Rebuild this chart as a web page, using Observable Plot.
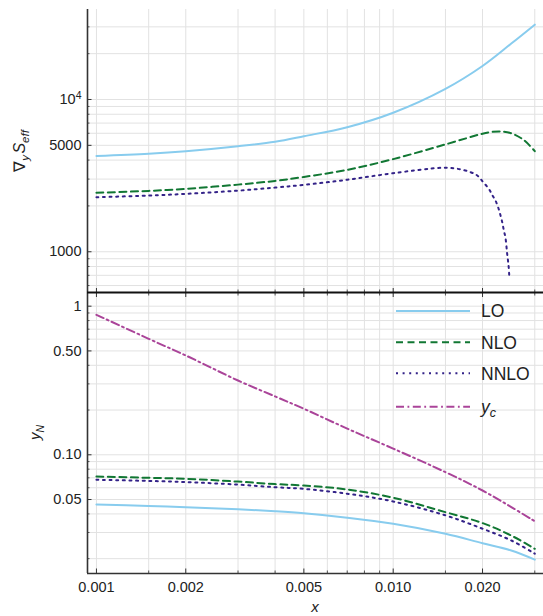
<!DOCTYPE html>
<html><head><meta charset="utf-8">
<script src="https://cdn.jsdelivr.net/npm/d3@7"></script>
<script src="https://cdn.jsdelivr.net/npm/@observablehq/plot@0.6"></script>
<style>body{margin:0;background:#fff} #chart{width:543px;height:616px}</style>
</head><body><div id="chart"></div>
<script>
// ---- ticks ----
const xMajor = [0.001, 0.002, 0.005, 0.01, 0.02];
const xMajorLabels = ["0.001", "0.002", "0.005", "0.010", "0.020"];
const xMinor = [0.0015, 0.003, 0.004, 0.006, 0.007, 0.008, 0.009, 0.015, 0.03];
const topMajor = [1000, 5000, 10000];
const topMajorLabels = ["1000", "5000", "10^4"];
const topMinor = [600, 700, 800, 900, 2000, 3000, 4000, 6000, 7000, 8000, 9000, 20000, 30000];
const botMajor = [0.05, 0.1, 0.5, 1];
const botMajorLabels = ["0.05", "0.10", "0.50", "1"];
const botMinor = [0.02, 0.03, 0.04, 0.06, 0.07, 0.08, 0.09, 0.2, 0.3, 0.4, 0.6, 0.7, 0.8, 0.9];

// ---- data ----
const xGrid = [0.001, 0.0015, 0.002, 0.003, 0.004, 0.005, 0.007, 0.01, 0.015, 0.02, 0.025, 0.03];
const topLO = [4250, 4400, 4570, 4930, 5280, 5740, 6580, 8190, 11750, 16600, 23300, 31000];
const xTopNLO = [0.001, 0.0015, 0.002, 0.003, 0.004, 0.005, 0.007, 0.01, 0.015, 0.02, 0.0215, 0.023, 0.025, 0.0275, 0.03];
const topNLO = [2440, 2510, 2590, 2760, 2920, 3100, 3450, 4060, 5070, 5960, 6120, 6170, 6000, 5430, 4580];
const xTopNNLO = [0.001, 0.0015, 0.002, 0.003, 0.004, 0.005, 0.007, 0.01, 0.0146, 0.0164, 0.0182, 0.0192, 0.0201, 0.021, 0.0216, 0.0221, 0.0226, 0.023, 0.0233, 0.0236, 0.0239, 0.0242, 0.0245, 0.0246];
const topNNLO = [2280, 2340, 2400, 2520, 2640, 2750, 2970, 3280, 3560, 3510, 3335, 3170, 2865, 2590, 2345, 2175, 1945, 1730, 1565, 1380, 1235, 980, 795, 706];
const botLO = [0.0463, 0.0453, 0.0444, 0.0430, 0.0417, 0.0404, 0.0377, 0.0343, 0.0294, 0.0254, 0.0227, 0.0197];
const botNLO = [0.0714, 0.0700, 0.0689, 0.0660, 0.0635, 0.0621, 0.0584, 0.0514, 0.0411, 0.0347, 0.0286, 0.0233];
const botNNLO = [0.0679, 0.0667, 0.0655, 0.0630, 0.0605, 0.0590, 0.0547, 0.0485, 0.0391, 0.0318, 0.0265, 0.0216];
const botYc = [0.875, 0.603, 0.466, 0.316, 0.247, 0.204, 0.150, 0.110, 0.0764, 0.0575, 0.0445, 0.0357];

const seriesNames = ["LO", "NLO", "NNLO", "y_c"];
const colors = ["#88CCEE", "#117733", "#332288", "#AA4499"];
const dashes = [null, "7,4.5", "2,4.6", "8,3.5,1.8,3.5"];

const xDomain = [0.000933, 0.0321];
const topDomain = [540, 39000];
const botDomain = [0.01589, 1.236];
const font = "'Liberation Sans', Arial, Helvetica, sans-serif";
const gridColor = "#e2e2e2";

const lbl = (ticks, labels) => d => labels[ticks.indexOf(d)];
const lineMark = (xs, ys, k) => Plot.line(ys, {
  x: (d, i) => xs[i], y: d => d, stroke: colors[k], strokeWidth: 2,
  strokeDasharray: dashes[k], curve: "catmull-rom"
});
const ticksOnly = (axis, opts) => axis({...opts, tickFormat: () => "", label: null});

const topPlot = Plot.plot({
  width: 543, height: 292, marginLeft: 87, marginRight: 0, marginTop: 9, marginBottom: 0,
  style: {fontFamily: font, fontSize: "14.5px", color: "#222", background: "white", overflow: "visible"},
  x: {type: "log", domain: xDomain, label: null},
  y: {type: "log", domain: topDomain, label: null},
  marks: [
    Plot.ruleX([...xMajor, ...xMinor], {stroke: gridColor}),
    Plot.ruleY([...topMajor, ...topMinor], {stroke: gridColor}),
    lineMark(xGrid, topLO, 0),
    lineMark(xTopNLO, topNLO, 1),
    lineMark(xTopNNLO, topNNLO, 2),
    Plot.axisY({ticks: topMajor, tickSize: 0, tickPadding: 6, tickFormat: lbl(topMajor, topMajorLabels), label: null}),
    ticksOnly(Plot.axisY, {ticks: topMajor, tickSize: -4.5, stroke: "#333"}),
    ticksOnly(Plot.axisY, {ticks: topMinor, tickSize: -2.5, stroke: "#555"}),
    ticksOnly(Plot.axisX, {anchor: "bottom", ticks: xMajor, tickSize: -4, stroke: "#333"}),
    ticksOnly(Plot.axisX, {anchor: "bottom", ticks: xMinor, tickSize: -2.5, stroke: "#555"}),
    Plot.ruleX([xDomain[0]], {stroke: "#333", strokeWidth: 1.6})
  ]
});

const bottomPlot = Plot.plot({
  width: 543, height: 324, marginLeft: 87, marginRight: 0, marginTop: 0, marginBottom: 43,
  style: {fontFamily: font, fontSize: "14.5px", color: "#222", background: "white", overflow: "visible"},
  x: {type: "log", domain: xDomain, label: null},
  y: {type: "log", domain: botDomain, label: null},
  marks: [
    Plot.ruleX([...xMajor, ...xMinor], {stroke: gridColor}),
    Plot.ruleY([...botMajor, ...botMinor], {stroke: gridColor}),
    lineMark(xGrid, botLO, 0),
    lineMark(xGrid, botNLO, 1),
    lineMark(xGrid, botNNLO, 2),
    lineMark(xGrid, botYc, 3),
    Plot.axisY({ticks: botMajor, tickSize: 0, tickPadding: 6, tickFormat: lbl(botMajor, botMajorLabels), label: null}),
    ticksOnly(Plot.axisY, {ticks: botMajor, tickSize: -4.5, stroke: "#333"}),
    ticksOnly(Plot.axisY, {ticks: botMinor, tickSize: -2.5, stroke: "#555"}),
    Plot.axisX({anchor: "bottom", ticks: xMajor, tickSize: 0, tickPadding: 8.5, tickFormat: lbl(xMajor, xMajorLabels), label: null}),
    ticksOnly(Plot.axisX, {anchor: "bottom", ticks: xMajor, tickSize: -4.5, stroke: "#333"}),
    ticksOnly(Plot.axisX, {anchor: "bottom", ticks: xMinor, tickSize: -2.5, stroke: "#555"}),
    ticksOnly(Plot.axisX, {anchor: "top", ticks: xMajor, tickSize: -4, stroke: "#333"}),
    ticksOnly(Plot.axisX, {anchor: "top", ticks: xMinor, tickSize: -2.5, stroke: "#555"}),
    Plot.ruleX([xDomain[0]], {stroke: "#333", strokeWidth: 1.6}),
    Plot.ruleY([botDomain[0]], {stroke: "#333", strokeWidth: 1.6}),
    Plot.ruleY([botDomain[1]], {stroke: "#111", strokeWidth: 2})
  ]
});

const chart = document.getElementById("chart");
chart.append(topPlot, bottomPlot);

// superscript for 10^4
d3.select(topPlot).selectAll("text").filter(function() { return this.textContent === "10^4"; })
  .each(function() {
    const t = d3.select(this); t.text("");
    t.append("tspan").text("10");
    t.append("tspan").attr("dy", "-0.45em").attr("font-size", "0.72em").text("4");
  });

// axis titles
const st = d3.select(topPlot);
const tt = st.append("text").attr("transform", "translate(25,151) rotate(-90)")
  .attr("text-anchor", "middle").attr("font-size", 16).attr("fill", "#222");
tt.append("tspan").text("∇");
tt.append("tspan").attr("font-size", 11.5).attr("dy", 4).attr("font-style", "italic").text("y");
tt.append("tspan").attr("dy", -4).attr("font-style", "italic").attr("dx", 1.5).text("S");
tt.append("tspan").attr("font-size", 11.5).attr("dy", 4).attr("font-style", "italic").text("eff");

const sb = d3.select(bottomPlot);
const yn = sb.append("text").attr("transform", "translate(40,140.5) rotate(-90)")
  .attr("text-anchor", "middle").attr("font-size", 15).attr("fill", "#222");
yn.append("tspan").attr("font-style", "italic").text("y");
yn.append("tspan").attr("font-size", 10.5).attr("dy", 3.5).attr("font-style", "italic").text("N");

sb.append("text").attr("x", 315).attr("y", 319.5).attr("text-anchor", "middle")
  .attr("font-size", 15).attr("font-style", "italic").attr("fill", "#222").text("x");

// legend
const legY = [19, 50.3, 81.3, 114.7];
seriesNames.forEach((name, k) => {
  const g = sb.append("g");
  g.append("line").attr("x1", 396).attr("x2", 470).attr("y1", legY[k]).attr("y2", legY[k])
    .attr("stroke", colors[k]).attr("stroke-width", 2).attr("stroke-dasharray", dashes[k]);
  const t = g.append("text").attr("x", 481).attr("y", legY[k] + 6.3)
    .attr("text-anchor", "start").attr("font-size", 17.5).attr("fill", "#222");
  if (name === "y_c") {
    t.append("tspan").attr("font-style", "italic").text("y");
    t.append("tspan").attr("font-style", "italic").attr("font-size", 12.5).attr("dy", 4).text("c");
  } else {
    t.text(name);
  }
});
</script></body></html>
